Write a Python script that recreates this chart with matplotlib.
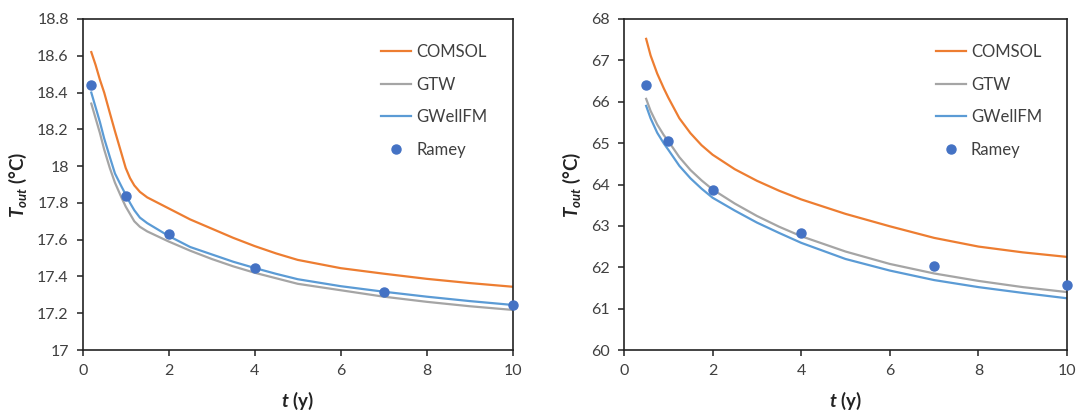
import matplotlib
matplotlib.use("Agg")
import matplotlib.pyplot as plt
from matplotlib.ticker import FuncFormatter, MultipleLocator

plt.rcParams['font.family'] = ['Lato', 'DejaVu Sans']
plt.rcParams['mathtext.fontset'] = 'custom'
plt.rcParams['mathtext.rm'] = 'Lato'
plt.rcParams['mathtext.it'] = 'Lato:italic'
plt.rcParams['mathtext.bf'] = 'Lato:bold'
plt.rcParams['mathtext.bfit'] = 'Lato:bold:italic'

# ---- left case: outlet temperature over 10 years ----
t_left = [0.2, 0.3, 0.4, 0.5, 0.63, 0.75, 0.9, 1.0, 1.1, 1.2, 1.33, 1.5, 2.0,
          2.5, 3.0, 3.5, 4.0, 4.5, 5.0, 6.0, 7.0, 8.0, 9.0, 10.0]
comsol_left = [18.62, 18.55, 18.47, 18.40, 18.29, 18.19, 18.07, 17.99, 17.935, 17.895,
               17.86, 17.83, 17.77, 17.71, 17.66, 17.61, 17.565, 17.525, 17.49,
               17.445, 17.415, 17.387, 17.364, 17.344]
gtw_left = [18.34, 18.26, 18.18, 18.09, 17.99, 17.91, 17.83, 17.78, 17.74, 17.70,
            17.67, 17.645, 17.59, 17.54, 17.495, 17.455, 17.42, 17.39, 17.36,
            17.325, 17.29, 17.262, 17.238, 17.218]
gwellfm_left = [18.40, 18.32, 18.24, 18.15, 18.05, 17.96, 17.89, 17.845, 17.80, 17.76,
                17.72, 17.69, 17.62, 17.56, 17.52, 17.48, 17.446, 17.414, 17.385,
                17.347, 17.317, 17.29, 17.266, 17.245]
t_ramey_left = [0.2, 1, 2, 4, 7, 10]
ramey_left = [18.44, 17.84, 17.63, 17.446, 17.317, 17.242]

# ---- right case ----
t_right = [0.5, 0.6, 0.75, 0.9, 1.0, 1.25, 1.5, 1.75, 2.0, 2.5, 3.0, 3.5, 4.0,
           5.0, 6.0, 7.0, 8.0, 9.0, 10.0]
comsol_right = [67.52, 67.12, 66.68, 66.32, 66.10, 65.60, 65.24, 64.95, 64.72, 64.37,
                64.09, 63.85, 63.64, 63.29, 62.99, 62.71, 62.50, 62.36, 62.25]
gtw_right = [66.07, 65.78, 65.45, 65.19, 65.05, 64.66, 64.35, 64.10, 63.88, 63.54,
             63.24, 62.98, 62.75, 62.38, 62.08, 61.85, 61.67, 61.52, 61.40]
gwellfm_right = [65.90, 65.60, 65.25, 64.99, 64.84, 64.45, 64.15, 63.90, 63.68, 63.37,
                 63.08, 62.83, 62.59, 62.20, 61.92, 61.69, 61.52, 61.38, 61.25]
t_ramey_right = [0.5, 1, 2, 4, 7, 10]
ramey_right = [66.40, 65.04, 63.86, 62.82, 62.02, 61.58]

series_names = ['COMSOL', 'GTW', 'GWellFM', 'Ramey']
C_ORANGE = '#ED7D31'
C_GRAY = '#A5A5A5'
C_BLUE = '#5B9BD5'
C_DOT = '#4472C4'
TXT = '#404040'

W, H = 1078, 412
fig = plt.figure(figsize=(W / 100, H / 100), dpi=100)
ax_l = fig.add_axes([82.7 / W, 62 / H, 430 / W, 331 / H])
ax_r = fig.add_axes([624 / W, 62 / H, 443 / W, 331 / H])

gfmt = FuncFormatter(lambda v, p: f'{v:g}')


def draw(ax, t, comsol, gtw, gwell, tr, ramey, ylim, ystep, leg_x):
    ax.plot(t, comsol, color=C_ORANGE, lw=1.6, label=series_names[0])
    ax.plot(t, gtw, color=C_GRAY, lw=1.6, label=series_names[1])
    ax.plot(t, gwell, color=C_BLUE, lw=1.6, label=series_names[2])
    ax.plot(tr, ramey, 'o', color=C_DOT, ms=6.5, mec=C_DOT, clip_on=False,
            zorder=5, label=series_names[3])
    ax.set_xlim(0, 10)
    ax.set_ylim(*ylim)
    ax.xaxis.set_major_locator(MultipleLocator(2))
    ax.yaxis.set_major_locator(MultipleLocator(ystep))
    ax.yaxis.set_major_formatter(gfmt)
    for s in ax.spines.values():
        s.set_color('#222222')
        s.set_linewidth(1.2)
    ax.tick_params(direction='out', length=4, width=1.1, color='#222222',
                   labelsize=11.5, labelcolor=TXT, pad=6)
    ax.set_xlabel(r'$\mathbfit{t}$ (y)', fontsize=13.5, fontweight='bold',
                  color='#222222', labelpad=9)
    ax.set_ylabel(r'$\mathbfit{T}_{\mathbfit{out}}$ (°C)', fontsize=13.5,
                  fontweight='bold', color='#222222', labelpad=6)
    leg = ax.legend(loc='upper right', bbox_to_anchor=(leg_x, 0.94), frameon=False,
                    fontsize=12, handlelength=1.8, handletextpad=0.3,
                    labelspacing=1.0, borderaxespad=0.0, borderpad=0.3,
                    numpoints=1)
    for txt in leg.get_texts():
        txt.set_color(TXT)


draw(ax_l, t_left, comsol_left, gtw_left, gwellfm_left, t_ramey_left, ramey_left,
     (17, 18.8), 0.2, 0.953)
draw(ax_r, t_right, comsol_right, gtw_right, gwellfm_right, t_ramey_right, ramey_right,
     (60, 68), 1, 0.955)

fig.savefig('out.png', dpi=100)
